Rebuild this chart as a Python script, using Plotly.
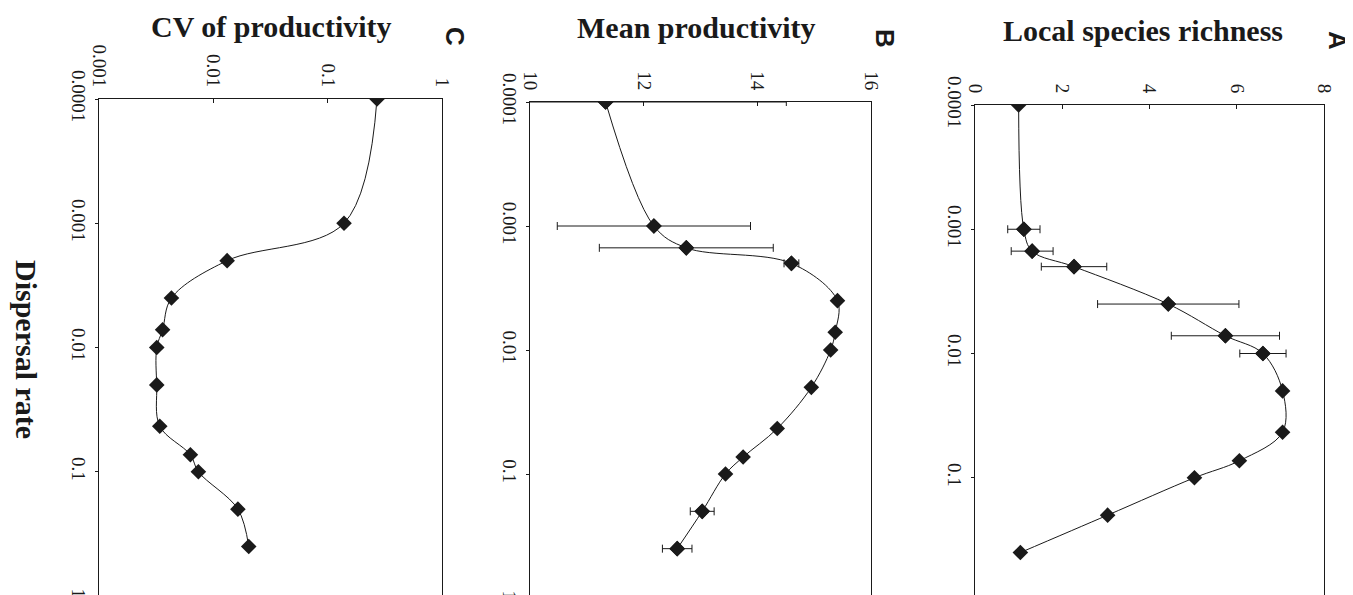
import plotly.graph_objects as go

# ---------------- data ----------------
dispersal = [0.0001, 0.001, 0.0015, 0.002, 0.004, 0.0072, 0.01, 0.02, 0.043, 0.073, 0.1, 0.2, 0.4]
richness = [1.0, 1.12, 1.31, 2.27, 4.43, 5.74, 6.6, 7.05, 7.05, 6.06, 5.03, 3.04, 1.04]
richness_err_idx = [1, 2, 3, 4, 5, 6]
richness_err = [0.37, 0.48, 0.75, 1.62, 1.24, 0.53]

productivity = [11.33, 12.18, 12.75, 14.6, 15.41, 15.37, 15.29, 14.95, 14.35, 13.75, 13.44, 13.03, 12.59]
productivity_err_idx = [0, 1, 2, 3, 11, 12]
productivity_err = [3.18, 1.7, 1.53, 0.13, 0.21, 0.26]

dispersal_cv = [0.0001, 0.001, 0.002, 0.004, 0.0072, 0.01, 0.02, 0.043, 0.073, 0.1, 0.2, 0.4]
cv_productivity = [0.27, 0.139, 0.0132, 0.0043, 0.0036, 0.0032, 0.0032, 0.0034, 0.0063, 0.0074, 0.0164, 0.0204]

disp_ticks = [0.0001, 0.001, 0.01, 0.1, 1]
disp_labels = ["0.0001", "0.001", "0.01", "0.1", "1"]
cv_ticks = [0.001, 0.01, 0.1, 1]
cv_labels = ["0.001", "0.01", "0.1", "1"]

titles = ["CV of productivity", "Mean productivity", "Local species richness"]
letters = ["C", "B", "A"]

# ---------------- figure ----------------
W, H = 1353, 595
SERIF = "Liberation Serif"
INK = "#1a1a1a"

fig = go.Figure()

marker = dict(symbol="diamond", size=12, color=INK)
line = dict(color=INK, width=1, shape="spline", smoothing=1)

# Panel C (left)
fig.add_trace(go.Scatter(x=cv_productivity, y=dispersal_cv, mode="lines+markers",
                         marker=marker, line=line, xaxis="x", yaxis="y", showlegend=False))
# Panel B (middle)
fig.add_trace(go.Scatter(x=productivity, y=dispersal, mode="lines+markers",
                         marker=marker, line=line, xaxis="x2", yaxis="y2", showlegend=False))
fig.add_trace(go.Scatter(x=[productivity[i] for i in productivity_err_idx],
                         y=[dispersal[i] for i in productivity_err_idx], mode="markers",
                         marker=marker,
                         error_x=dict(type="data", array=productivity_err, symmetric=True,
                                      color=INK, thickness=1, width=4),
                         xaxis="x2", yaxis="y2", showlegend=False))
# Panel A (right)
fig.add_trace(go.Scatter(x=richness, y=dispersal, mode="lines+markers",
                         marker=marker, line=line, xaxis="x3", yaxis="y3", showlegend=False))
fig.add_trace(go.Scatter(x=[richness[i] for i in richness_err_idx],
                         y=[dispersal[i] for i in richness_err_idx], mode="markers",
                         marker=marker,
                         error_x=dict(type="data", array=richness_err, symmetric=True,
                                      color=INK, thickness=1, width=4),
                         xaxis="x3", yaxis="y3", showlegend=False))

tickfont = dict(family=SERIF, size=19, color=INK)


def px_x(p):
    return p / W


def px_y(p):
    return 1 - p / H


def xax(domain, **kw):
    d = dict(domain=domain, side="top", tickangle=90, ticks="inside", ticklen=4,
             tickcolor=INK, showline=True, linecolor=INK, linewidth=1, mirror=True,
             showgrid=False, zeroline=False, tickfont=tickfont, fixedrange=True,
             automargin=False, ticklabelstandoff=4)
    d.update(kw)
    return d


def yax(domain, anchor):
    return dict(domain=domain, type="log", range=[0, -4], tickvals=disp_ticks,
                ticktext=disp_labels, tickangle=90, ticks="outside", ticklen=3,
                tickcolor=INK, showline=True, linecolor=INK, linewidth=1, mirror=True,
                showgrid=False, zeroline=False, tickfont=tickfont, anchor=anchor,
                fixedrange=True, automargin=False)


fig.update_layout(
    width=W, height=H,
    margin=dict(l=0, r=0, t=0, b=0),
    paper_bgcolor="white", plot_bgcolor="white",
    xaxis=xax([px_x(91), px_x(434)], type="log", range=[-3, 0], tickvals=cv_ticks,
              ticktext=cv_labels, anchor="y"),
    yaxis=yax([px_y(588), px_y(91)], "x"),
    xaxis2=xax([px_x(522), px_x(863)], range=[10, 16], dtick=2, anchor="y2"),
    yaxis2=yax([px_y(590), px_y(94)], "x2"),
    xaxis3=xax([px_x(967), px_x(1316)], range=[0, 8], dtick=2, anchor="y3"),
    yaxis3=yax([px_y(594), px_y(97)], "x3"),
)

title_pos = [(263, 18), (688, 20), (1135, 23)]
letter_pos = [(447, 28), (877, 30), (1330, 32)]
for t, (x, y) in zip(titles, title_pos):
    fig.add_annotation(text="<b>%s</b>" % t, x=px_x(x), y=px_y(y), xref="paper", yref="paper",
                       showarrow=False, xanchor="center", yanchor="middle",
                       font=dict(family=SERIF, size=30, color=INK))
for t, (x, y) in zip(letters, letter_pos):
    fig.add_annotation(text="<b>%s</b>" % t, x=px_x(x), y=px_y(y), xref="paper", yref="paper",
                       showarrow=False, xanchor="center", yanchor="middle", textangle=90,
                       font=dict(family="Liberation Sans", size=26, color=INK))

fig.add_annotation(text="<b>Dispersal rate</b>", x=px_x(19), y=px_y(341), xref="paper",
                   yref="paper", showarrow=False, xanchor="center", yanchor="middle",
                   textangle=90, font=dict(family=SERIF, size=30, color=INK))

fig.write_html("out.html")
